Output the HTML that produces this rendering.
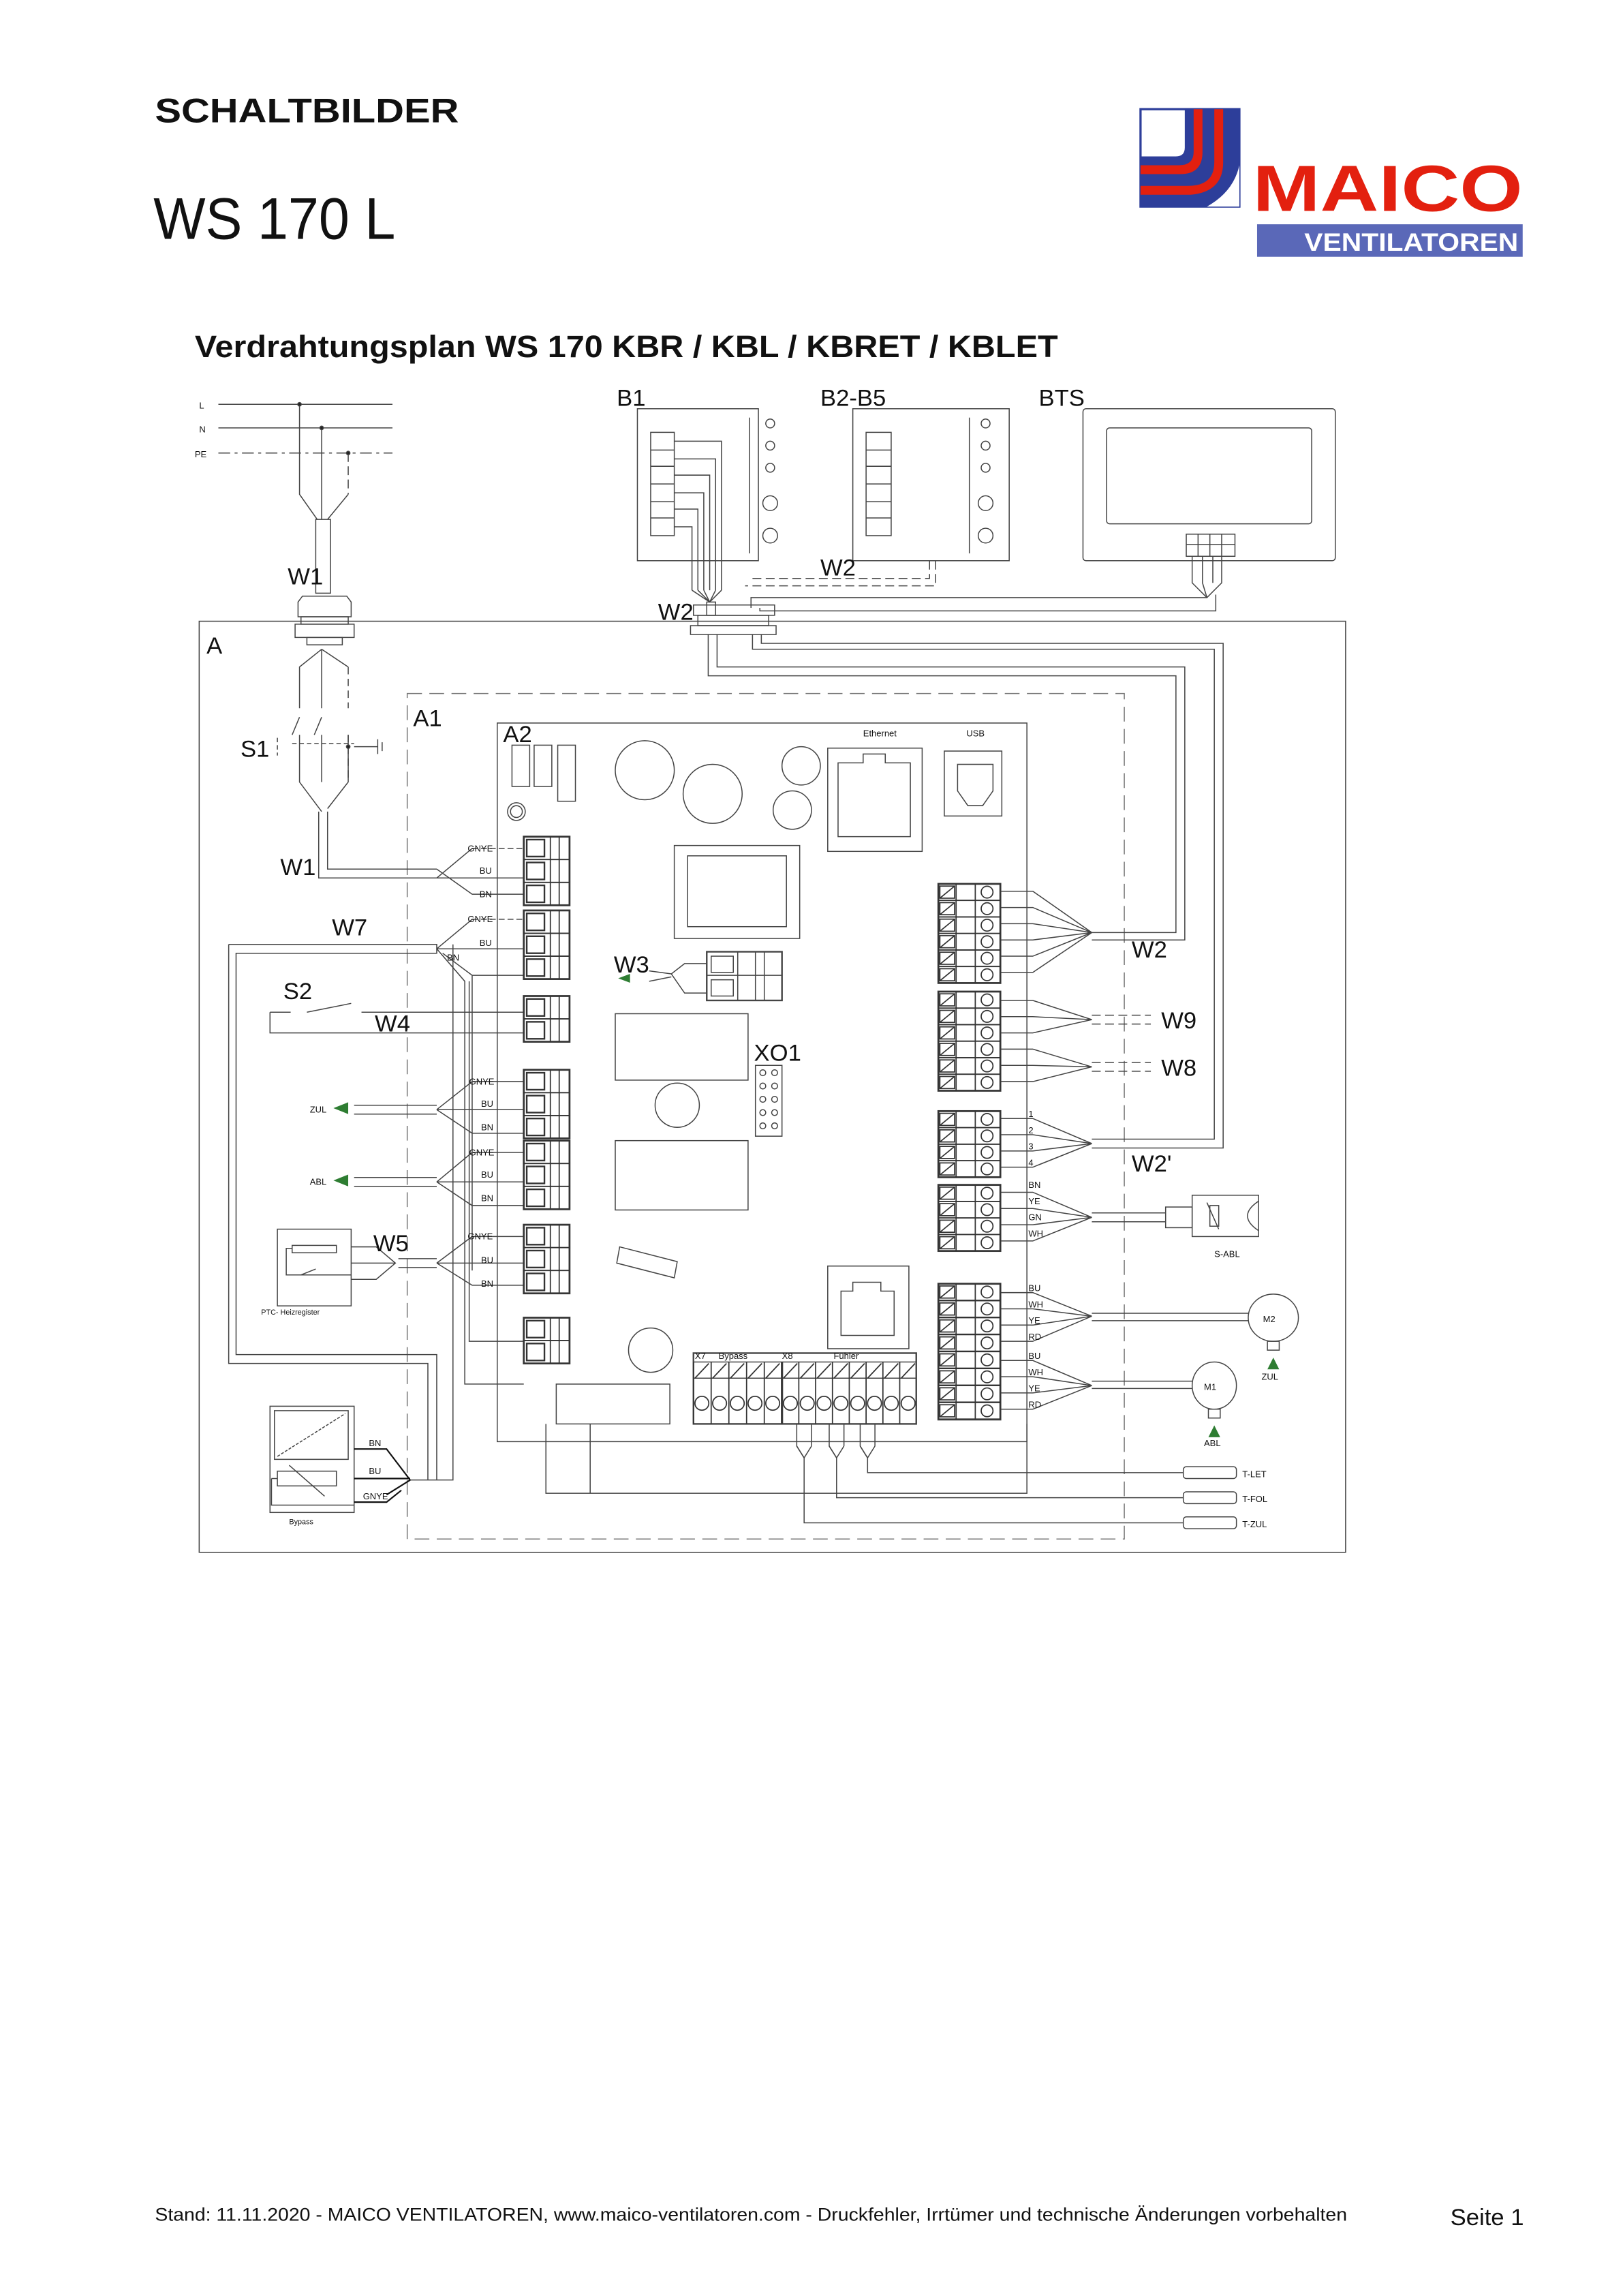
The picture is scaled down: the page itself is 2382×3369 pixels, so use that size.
<!DOCTYPE html>
<html><head><meta charset="utf-8">
<style>
html,body{margin:0;padding:0;background:#fff;}
svg{display:block;}
text{font-family:"Liberation Sans",Arial,sans-serif;fill:#111;}
</style></head>
<body>
<svg xmlns="http://www.w3.org/2000/svg" xmlns:xlink="http://www.w3.org/1999/xlink" width="2382" height="3369" viewBox="0 0 1100 1556" preserveAspectRatio="none">
<defs>
<symbol id="lr" overflow="visible"><g fill="none" stroke="#333" stroke-width="0.8"><rect x="0" y="0" width="31" height="15.5"/><rect x="2" y="2" width="12" height="11.5" stroke-width="1.1"/><line x1="18" y1="0" x2="18" y2="15.5"/><line x1="24" y1="0" x2="24" y2="15.5"/></g></symbol>
<symbol id="rr" overflow="visible"><g fill="none" stroke="#333" stroke-width="0.8"><rect x="0" y="0" width="42" height="11.2"/><rect x="1" y="1.5" width="10" height="8.2"/><line x1="1" y1="9.7" x2="11" y2="1.5"/><line x1="12" y1="0" x2="12" y2="11.2"/><line x1="25" y1="0" x2="25" y2="11.2"/><circle cx="33" cy="5.6" r="4"/></g></symbol>
<symbol id="bc" overflow="visible"><g fill="none" stroke="#333" stroke-width="0.8"><line x1="0" y1="0" x2="0" y2="42"/><line x1="1" y1="11" x2="10.4" y2="1"/><circle cx="5.7" cy="28" r="4.7"/></g></symbol>
</defs>
<rect width="1100" height="1556" fill="#fff"/>
<!-- Header -->
<text x="105" y="83" font-size="23" font-weight="bold" textLength="206" lengthAdjust="spacingAndGlyphs">SCHALTBILDER</text>
<text x="104" y="162" font-size="40" textLength="164" lengthAdjust="spacingAndGlyphs">WS 170 L</text>
<!-- Logo -->
<g>
<rect x="773" y="74" width="67" height="66" fill="#fff" stroke="#2d3e9a" stroke-width="1.5"/>
<path d="M803,74 L803,100 Q803,106 797,106 L773,106 L773,140 L825,140 Q840,130 840,115 L840,74 Z" fill="#2d3e9a"/>
<path d="M809,74 L809,103 Q809,112 799,112 L773,112 L773,118 L800,118 Q815,118 815,103 L815,74 Z" fill="#e3200f"/>
<path d="M823,74 L823,110 Q823,126 805,126 L773,126 L773,132 L807,132 Q829,130 829,110 L829,74 Z" fill="#e3200f"/>
<path d="M840,112 L840,140 L818,140 Q836,130 840,112Z" fill="#fff"/>
<text x="849" y="143" font-size="44" font-weight="bold" style="fill:#e3200f" textLength="183" lengthAdjust="spacingAndGlyphs">MAICO</text>
<rect x="852" y="152" width="180" height="22" fill="#5a68b8"/>
<text x="884" y="170" font-size="17" font-weight="bold" style="fill:#fff" textLength="145" lengthAdjust="spacingAndGlyphs">VENTILATOREN</text>
</g>
<text x="132" y="242" font-size="21" font-weight="bold" textLength="585" lengthAdjust="spacingAndGlyphs">Verdrahtungsplan WS 170 KBR / KBL / KBRET / KBLET</text>

<g fill="none" stroke="#444" stroke-width="0.7">
<rect x="135" y="421" width="777" height="631"/>
<rect x="276" y="470" width="486" height="573" stroke-dasharray="10,5" stroke="#777"/>
<rect x="337" y="490" width="359" height="487"/>
<line x1="148" y1="274" x2="266" y2="274"/>
<line x1="148" y1="290" x2="266" y2="290"/>
<line x1="148" y1="307" x2="266" y2="307" stroke-dasharray="8,3,2,3"/>
<path d="M203,274 V335 L215,352 M218,290 V352 M222,352 L236,335"/>
<path d="M236,307 V335" stroke-dasharray="6,3"/>
<circle cx="203" cy="274" r="1.2" fill="#222"/><circle cx="218" cy="290" r="1.2" fill="#222"/><circle cx="236" cy="307" r="1.2" fill="#222"/>
<rect x="214" y="352" width="10" height="50"/>
<path d="M205,404 L235,404 L238,408 L238,418 L202,418 L202,408 Z"/>
<rect x="204" y="418" width="32" height="5"/>
<rect x="200" y="423" width="40" height="9"/>
<rect x="208" y="432" width="24" height="5"/>
<path d="M218,440 L203,452 V480 M218,440 V480 M218,440 L236,452"/>
<path d="M236,452 V480" stroke-dasharray="5,3"/>
<path d="M203,486 L198,498 M218,486 L213,498"/>
<path d="M203,498 V530 L218,550 M218,498 V530 M236,498 V530 L222,548"/>
<path d="M236,498 V530" stroke-dasharray="5,3"/>
<path d="M198,504 H240 M188,500 V512" stroke-dasharray="3,2"/>
<path d="M240,506 H256 M256,501 V511 M259,503 V509"/>
<circle cx="236" cy="506" r="1.2" fill="#222"/>
<path d="M216,550 V595 H296 M222,550 V589 H296"/>
<rect x="470" y="410" width="55" height="7"/>
<rect x="473" y="417" width="48" height="7"/>
<rect x="468" y="424" width="58" height="6"/>
<rect x="432" y="277" width="82" height="103"/>
<line x1="508" y1="283" x2="508" y2="375"/>
<rect x="441" y="293" width="16" height="70"/>
<path d="M441,305 H457 M441,316 H457 M441,328 H457 M441,340 H457 M441,351 H457"/>
<path d="M457,299 H489 V400 M457,311 H485 V400 M457,322 H481 V400 M457,334 H477 V400 M457,345 H473 V400 M457,357 H469 V400"/>
<path d="M469,400 L481,408 L489,400 M473,400 L481,408 M477,400 L481,408 M485,400 L481,408"/>
<rect x="479" y="408" width="6" height="9"/>
<circle cx="522" cy="287" r="3"/><circle cx="522" cy="302" r="3"/><circle cx="522" cy="317" r="3"/>
<circle cx="522" cy="341" r="5"/><circle cx="522" cy="363" r="5"/>
<rect x="578" y="277" width="106" height="103"/>
<line x1="657" y1="283" x2="657" y2="375"/>
<rect x="587" y="293" width="17" height="70"/>
<path d="M587,305 H604 M587,316 H604 M587,328 H604 M587,340 H604 M587,351 H604"/>
<circle cx="668" cy="287" r="3"/><circle cx="668" cy="302" r="3"/><circle cx="668" cy="317" r="3"/>
<circle cx="668" cy="341" r="5"/><circle cx="668" cy="363" r="5"/>
<path d="M634,380 V397 H505 M630,380 V392 H510" stroke-dasharray="6,3"/>
<rect x="734" y="277" width="171" height="103" rx="2"/>
<rect x="750" y="290" width="139" height="65" rx="2"/>
<rect x="804" y="362" width="33" height="15"/>
<path d="M812,362 V377 M820,362 V377 M828,362 V377 M804,369 H837"/>
<path d="M808,377 V395 L818,405 L828,395 V377 M815,377 V395 L818,405 M822,377 V395"/>
<path d="M818,405 H509 V412 M824,403 V414 H515 V412"/>
<path d="M480,430 V458 H797 V632 H740 M486,430 V452 H803 V637 H740"/>
<path d="M510,430 V440 H823 V772 H740 M516,430 V436 H829 V778 H740"/>
<rect x="347" y="505" width="12" height="28"/><rect x="362" y="505" width="12" height="28"/><rect x="378" y="505" width="12" height="38"/>
<circle cx="350" cy="550" r="6"/><circle cx="350" cy="550" r="4"/>
<circle cx="437" cy="522" r="20"/><circle cx="483" cy="538" r="20"/>
<circle cx="543" cy="519" r="13"/><circle cx="537" cy="549" r="13"/>
<rect x="561" y="507" width="64" height="70"/>
<path d="M568,567 V517 H585 V511 H600 V517 H617 V567 Z"/>
<rect x="640" y="509" width="39" height="44"/>
<path d="M649,518 H673 V536 L666,546 H656 L649,536 Z"/>
<rect x="457" y="573" width="85" height="63"/><rect x="466" y="580" width="67" height="48"/>
<rect x="417" y="687" width="90" height="45"/>
<circle cx="459" cy="749" r="15"/>
<rect x="417" y="773" width="90" height="47"/>
<path d="M420,845 L459,855 L457,866 L418,856 Z"/>
<circle cx="441" cy="915" r="15"/>
<rect x="377" y="938" width="77" height="27"/>
<rect x="561" y="858" width="55" height="56"/>
<path d="M570,905 V875 H578 V869 H597 V875 H606 V905 Z"/>
<rect x="512" y="722" width="18" height="48"/>
<rect x="479" y="645" width="51" height="33" stroke-width="1.1"/>
<path d="M479,661 H530 M500,645 V678 M512,645 V678 M518,645 V678"/>
<rect x="482" y="648" width="15" height="11"/><rect x="482" y="664" width="15" height="11"/>
<path d="M479,653 H464 L455,660 L464,673 H479 M455,660 L440,658 M455,662 L440,665"/>
<rect x="470" y="917" width="151" height="48" stroke-width="1.1"/>
<path d="M296,595 L320,575 M296,595 H355 M296,589 L320,606 H355"/>
<path d="M320,575 H355" stroke-dasharray="4,2"/>
<path d="M155,640 H296 V646 H160 V918 H296 V1003 M155,640 V924 H290 V1003"/>
<path d="M296,643 L320,623 M296,643 H355 M296,643 L315,665 V938 H355 M300,646 L320,661 V861"/>
<path d="M320,623 H355" stroke-dasharray="4,2"/>
<path d="M320,661 H355 M318,665 V909 H355"/>
<path d="M183,686 V700 H355 M183,686 H197 M245,686 H355 M208,686 L238,680"/>
<path d="M240,749 H296 M240,755 H296 M296,752 L320,733 M296,752 H355 M296,752 L320,768 H355 M320,733 H355"/>
<path d="M240,798 H296 M240,804 H296 M296,801 L320,781 M296,801 H355 M296,801 L320,817 H355 M320,781 H355"/>
<path d="M270,853 H296 M270,859 H296 M296,856 L320,838 M296,856 H355 M296,856 L320,871 H355 M320,838 H355"/>
<path d="M238,845 H255 L268,856 L255,867 H238 M238,856 H268"/>
<rect x="188" y="833" width="50" height="52"/>
<rect x="198" y="844" width="30" height="5"/>
<path d="M198,846 H194 V864 H238 M204,864 L214,860"/>
<rect x="183" y="953" width="57" height="72"/>
<rect x="186" y="956" width="50" height="33"/>
<path d="M188,987 L234,958" stroke-dasharray="2,1"/>
<rect x="188" y="997" width="40" height="10"/>
<path d="M196,993 L220,1014 M188,1002 H184 M184,1002 V1020 H240"/>
<path d="M240,982 H262 L278,1003 L262,1013 M240,1002 H278 M240,1018 H262 L272,1010" stroke="#111" stroke-width="1"/>
<path d="M278,1003 H307 V640"/>
<path d="M678,604 H700 L740,632 M678,615 H700 L740,632 M678,626 H700 L740,632 M678,637 H700 L740,632 M678,648 H700 L740,632 M678,659 H700 L740,632"/>
<path d="M678,678 H700 L740,691 M678,689 H700 L740,691 M678,700 H700 L740,691 M678,711 H700 L740,723 M678,722 H700 L740,723 M678,733 H700 L740,723"/>
<path d="M740,688 H780 M740,694 H780 M740,720 H780 M740,726 H780" stroke-dasharray="6,3"/>
<path d="M678,758 H700 L740,775 M678,769 H700 L740,775 M678,780 H700 L740,775 M678,791 H700 L740,775"/>
<path d="M678,808 H700 L740,825 M678,819 H700 L740,825 M678,830 H700 L740,825 M678,841 H700 L740,825"/>
<path d="M740,822 H790 M740,828 H790"/>
<rect x="790" y="818" width="18" height="14"/>
<rect x="808" y="810" width="45" height="28"/>
<path d="M853,814 Q838,824 853,834 M818,815 L826,833 M820,817 H826 V831 H820 Z"/>
<path d="M678,876 H700 L740,892 M678,887 H700 L740,892 M678,898 H700 L740,892 M678,909 H700 L740,892"/>
<path d="M678,922 H700 L740,939 M678,933 H700 L740,939 M678,944 H700 L740,939 M678,955 H700 L740,939"/>
<path d="M740,890 H846 M740,895 H846 M740,936 H808 M740,941 H808"/>
<ellipse cx="863" cy="893" rx="17" ry="16"/>
<ellipse cx="823" cy="939" rx="15" ry="16"/>
<rect x="859" y="909" width="8" height="6"/><rect x="819" y="955" width="8" height="6"/>
<path d="M540,965 V980 L545,988 V1032 H802 M550,965 V980 M562,965 V980 L567,988 V1015 H802 M572,965 V980 M583,965 V980 L588,988 V998 H802 M593,965 V980"/>
<path d="M540,980 L545,988 L550,980 M562,980 L567,988 L572,980 M583,980 L588,988 L593,980"/>
<rect x="802" y="994" width="36" height="8" rx="2"/><rect x="802" y="1011" width="36" height="8" rx="2"/><rect x="802" y="1028" width="36" height="8" rx="2"/>
<path d="M370,965 V1012 H696 V965 M400,965 V1012"/>
<!-- XO1 pins -->
<circle cx="517" cy="727" r="2"/><circle cx="525" cy="727" r="2"/>
<circle cx="517" cy="736" r="2"/><circle cx="525" cy="736" r="2"/>
<circle cx="517" cy="745" r="2"/><circle cx="525" cy="745" r="2"/>
<circle cx="517" cy="754" r="2"/><circle cx="525" cy="754" r="2"/>
<circle cx="517" cy="763" r="2"/><circle cx="525" cy="763" r="2"/>
<!-- block outlines left -->
<rect x="355" y="567" width="31" height="46.5" stroke-width="1.3"/>
<rect x="355" y="617" width="31" height="46.5" stroke-width="1.3"/>
<rect x="355" y="675" width="31" height="31" stroke-width="1.3"/>
<rect x="355" y="725" width="31" height="46.5" stroke-width="1.3"/>
<rect x="355" y="773" width="31" height="46.5" stroke-width="1.3"/>
<rect x="355" y="830" width="31" height="46.5" stroke-width="1.3"/>
<rect x="355" y="893" width="31" height="31" stroke-width="1.3"/>
<!-- block outlines right -->
<rect x="636" y="599" width="42" height="67.2" stroke-width="1.3"/>
<rect x="636" y="672" width="42" height="67.2" stroke-width="1.3"/>
<rect x="636" y="753" width="42" height="44.8" stroke-width="1.3"/>
<rect x="636" y="803" width="42" height="44.8" stroke-width="1.3"/>
<rect x="636" y="870" width="42" height="92" stroke-width="1.3"/>
<line x1="530" y1="923" x2="530" y2="965" stroke-width="1.5"/>
<path d="M470,923 H621 M470,934 H621"/>
</g>
<!-- left terminal rows -->
<use xlink:href="#lr" x="355" y="567"/><use xlink:href="#lr" x="355" y="582.5"/><use xlink:href="#lr" x="355" y="598"/>
<use xlink:href="#lr" x="355" y="617"/><use xlink:href="#lr" x="355" y="632.5"/><use xlink:href="#lr" x="355" y="648"/>
<use xlink:href="#lr" x="355" y="675"/><use xlink:href="#lr" x="355" y="690.5"/>
<use xlink:href="#lr" x="355" y="725"/><use xlink:href="#lr" x="355" y="740.5"/><use xlink:href="#lr" x="355" y="756"/>
<use xlink:href="#lr" x="355" y="773"/><use xlink:href="#lr" x="355" y="788.5"/><use xlink:href="#lr" x="355" y="804"/>
<use xlink:href="#lr" x="355" y="830"/><use xlink:href="#lr" x="355" y="845.5"/><use xlink:href="#lr" x="355" y="861"/>
<use xlink:href="#lr" x="355" y="893"/><use xlink:href="#lr" x="355" y="908.5"/>
<!-- right terminal rows -->
<use xlink:href="#rr" x="636" y="599"/><use xlink:href="#rr" x="636" y="610.2"/><use xlink:href="#rr" x="636" y="621.4"/><use xlink:href="#rr" x="636" y="632.6"/><use xlink:href="#rr" x="636" y="643.8"/><use xlink:href="#rr" x="636" y="655"/>
<use xlink:href="#rr" x="636" y="672"/><use xlink:href="#rr" x="636" y="683.2"/><use xlink:href="#rr" x="636" y="694.4"/><use xlink:href="#rr" x="636" y="705.6"/><use xlink:href="#rr" x="636" y="716.8"/><use xlink:href="#rr" x="636" y="728"/>
<use xlink:href="#rr" x="636" y="753"/><use xlink:href="#rr" x="636" y="764.2"/><use xlink:href="#rr" x="636" y="775.4"/><use xlink:href="#rr" x="636" y="786.6"/>
<use xlink:href="#rr" x="636" y="803"/><use xlink:href="#rr" x="636" y="814.2"/><use xlink:href="#rr" x="636" y="825.4"/><use xlink:href="#rr" x="636" y="836.6"/>
<use xlink:href="#rr" x="636" y="870"/><use xlink:href="#rr" x="636" y="881.5"/><use xlink:href="#rr" x="636" y="893"/><use xlink:href="#rr" x="636" y="904.5"/>
<use xlink:href="#rr" x="636" y="916"/><use xlink:href="#rr" x="636" y="927.5"/><use xlink:href="#rr" x="636" y="939"/><use xlink:href="#rr" x="636" y="950.5"/>
<!-- bottom strip cells -->
<use xlink:href="#bc" x="470" y="923"/><use xlink:href="#bc" x="482" y="923"/><use xlink:href="#bc" x="494" y="923"/><use xlink:href="#bc" x="506" y="923"/><use xlink:href="#bc" x="518" y="923"/>
<use xlink:href="#bc" x="530" y="923"/><use xlink:href="#bc" x="541.4" y="923"/><use xlink:href="#bc" x="552.8" y="923"/><use xlink:href="#bc" x="564.2" y="923"/><use xlink:href="#bc" x="575.6" y="923"/><use xlink:href="#bc" x="587" y="923"/><use xlink:href="#bc" x="598.4" y="923"/><use xlink:href="#bc" x="609.8" y="923"/>
<!-- green arrows -->
<path d="M226,751 L236,747 V755 Z" fill="#2e7d32"/>
<path d="M226,800 L236,796 V804 Z" fill="#2e7d32"/>
<path d="M419,663 L427,660 V666 Z" fill="#2e7d32"/>
<path d="M863,920 L859,928 H867 Z" fill="#2e7d32"/>
<path d="M823,966 L819,974 H827 Z" fill="#2e7d32"/>
<g font-size="16">
<text x="195" y="396">W1</text><text x="446" y="420">W2</text><text x="556" y="390">W2</text>
<text x="418" y="275">B1</text><text x="556" y="275">B2-B5</text><text x="704" y="275">BTS</text>
<text x="140" y="443">A</text><text x="280" y="492">A1</text><text x="341" y="503">A2</text>
<text x="163" y="513">S1</text><text x="190" y="593">W1</text><text x="225" y="634">W7</text>
<text x="192" y="677">S2</text><text x="254" y="699">W4</text><text x="416" y="659">W3</text>
<text x="511" y="719">XO1</text><text x="253" y="848">W5</text>
<text x="767" y="649">W2</text><text x="787" y="697">W9</text><text x="787" y="729">W8</text><text x="767" y="794">W2'</text>
</g>
<g font-size="6">
<text x="135" y="277">L</text><text x="135" y="293">N</text><text x="132" y="310">PE</text>
<text x="317" y="577">GNYE</text><text x="325" y="592">BU</text><text x="325" y="608">BN</text>
<text x="317" y="625">GNYE</text><text x="325" y="641">BU</text><text x="303" y="651">BN</text>
<text x="318" y="735">GNYE</text><text x="326" y="750">BU</text><text x="326" y="766">BN</text>
<text x="318" y="783">GNYE</text><text x="326" y="798">BU</text><text x="326" y="814">BN</text>
<text x="317" y="840">GNYE</text><text x="326" y="856">BU</text><text x="326" y="872">BN</text>
<text x="210" y="754">ZUL</text><text x="210" y="803">ABL</text>
<text x="177" y="891" font-size="5">PTC- Heizregister</text><text x="196" y="1033" font-size="5">Bypass</text>
<text x="250" y="980">BN</text><text x="250" y="999">BU</text><text x="246" y="1016">GNYE</text>
<text x="697" y="757">1</text><text x="697" y="768">2</text><text x="697" y="779">3</text><text x="697" y="790">4</text>
<text x="697" y="805">BN</text><text x="697" y="816">YE</text><text x="697" y="827">GN</text><text x="697" y="838">WH</text>
<text x="697" y="875">BU</text><text x="697" y="886">WH</text><text x="697" y="897">YE</text><text x="697" y="908">RD</text>
<text x="697" y="921">BU</text><text x="697" y="932">WH</text><text x="697" y="943">YE</text><text x="697" y="954">RD</text>
<text x="823" y="852">S-ABL</text><text x="856" y="896">M2</text><text x="816" y="942">M1</text>
<text x="855" y="935">ZUL</text><text x="816" y="980">ABL</text>
<text x="842" y="1001">T-LET</text><text x="842" y="1018">T-FOL</text><text x="842" y="1035">T-ZUL</text>
<text x="471" y="921">X7</text><text x="487" y="921">Bypass</text><text x="530" y="921">X8</text><text x="565" y="921">Fühler</text>
<text x="585" y="499">Ethernet</text><text x="655" y="499">USB</text>
</g>
<text x="105" y="1505" font-size="12.5" textLength="808" lengthAdjust="spacingAndGlyphs">Stand: 11.11.2020 - MAICO VENTILATOREN, www.maico-ventilatoren.com - Druckfehler, Irrtümer und technische Änderungen vorbehalten</text>
<text x="983" y="1508" font-size="16">Seite 1</text>
</svg>
</body></html>
